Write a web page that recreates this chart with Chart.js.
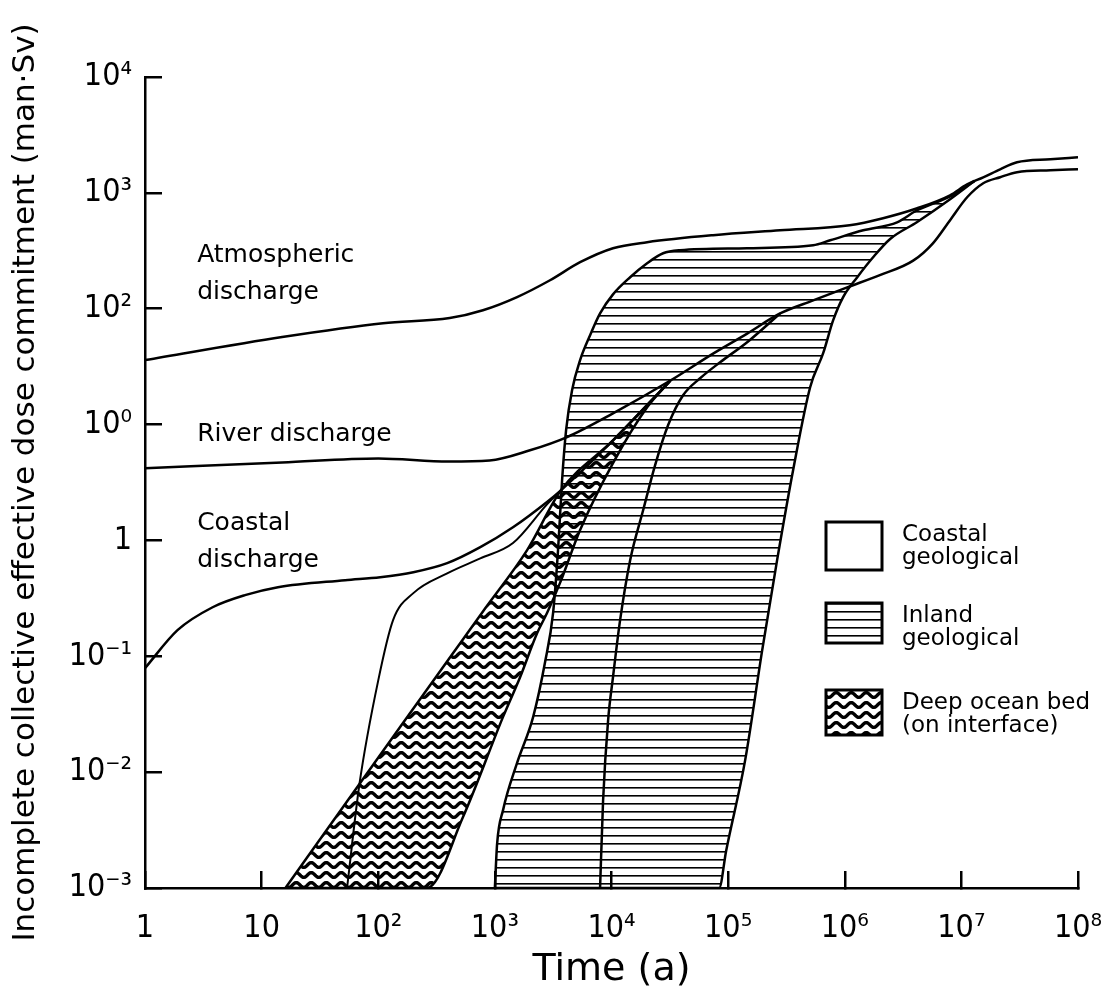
<!DOCTYPE html>
<html>
<head>
<meta charset="utf-8">
<script src="https://cdn.jsdelivr.net/npm/chart.js@4.4.1/dist/chart.umd.min.js"></script>
<style>
  html, body { margin: 0; padding: 0; background: #fff; }
  #chart { display: block; }
</style>
</head>
<body>
<canvas id="chart" width="1113" height="995"></canvas>
<script>
// tick values and their printed labels (the original prints "10⁰" at the 10 mark)
const xTickValues = [1, 10, 1e2, 1e3, 1e4, 1e5, 1e6, 1e7, 1e8];
const xTickLabels = ['1', '10', '10²', '10³', '10⁴', '10⁵', '10⁶', '10⁷', '10⁸'];
const yTickValues = [1e-3, 1e-2, 1e-1, 1, 10, 1e2, 1e3, 1e4];
const yTickLabels = ['10⁻³', '10⁻²', '10⁻¹', '1', '10⁰', '10²', '10³', '10⁴'];

// Atmospheric discharge
const atmosX = [1, 15, 110, 410, 790, 1550, 2970, 5380, 10300, 20200, 74300, 279000, 1.1e6, 2.13e6, 4.18e6, 8.0e6, 1.12e7, 1.54e7, 2.15e7, 3.0e7, 5.8e7, 1e8];
const atmosY = [36, 57, 75, 83, 97, 126, 176, 252, 333, 375, 431, 475, 525, 604, 736, 953, 1185, 1362, 1596, 1836, 1950, 2030];

// River discharge (joins the common curve after ~3e4 a)
const riverX = [1, 15, 100, 400, 900, 2000, 4160, 10300, 32000, 74300, 145600, 279000, 536000, 1.05e6, 2.0e6, 3.86e6, 5.7e6, 8.0e6, 1.12e7, 1.54e7, 2.15e7, 3.0e7, 5.8e7, 1e8];
const riverY = [4.2, 4.7, 5.1, 4.8, 4.9, 6.0, 7.8, 12.5, 24, 41, 61, 91, 118, 153, 195, 260, 367, 581, 916, 1211, 1365, 1507, 1567, 1600];

// Coastal discharge
const coastalX = [1, 1.9, 3.8, 7.2, 13.8, 52, 104, 200, 390, 750, 1430, 2800, 3700, 10300, 32000];
const coastalY = [0.079, 0.168, 0.265, 0.337, 0.395, 0.454, 0.482, 0.532, 0.637, 0.875, 1.30, 2.15, 2.72, 7.3, 24];

// Coastal geological
const coastGeoX = [54, 69, 100, 134, 200, 390, 750, 1430, 2800, 3700];
const coastGeoY = [0.001, 0.0079, 0.062, 0.205, 0.351, 0.52, 0.70, 0.95, 2.05, 2.72];

// Deep ocean bed band: upper and lower edges
const oceanUpperX = [16, 69, 154, 413, 793, 1890, 3700, 10300, 32000];
const oceanUpperY = [0.001, 0.0079, 0.0245, 0.098, 0.245, 0.824, 2.72, 7.3, 24];
const oceanLowerX = [16, 262, 533, 1175, 1645, 2300, 2800, 3620, 5380, 10300, 20200, 32000];
const oceanLowerY = [0.001, 0.001, 0.0041, 0.030, 0.066, 0.158, 0.236, 0.43, 1.23, 4.65, 14.1, 24];

// Inland geological band: upper and lower edges, plus the inner curve
const inlandUpperX = [1000, 1045, 1175, 1550, 2130, 2700, 3155, 3480, 3770, 4080, 4590, 5380, 6550, 7980, 10300, 14450, 20200, 27700, 38700, 145000, 536000, 750000, 1.44e6, 2.81e6, 4.18e6, 8.0e6, 1.3e7];
const inlandUpperY = [0.001, 0.0024, 0.0047, 0.012, 0.030, 0.09, 0.236, 0.824, 3.31, 8.95, 19.8, 36, 59, 91, 133, 187, 247, 301, 320, 333, 353, 390, 475, 557, 708, 933, 1270];
const inlandLowerX = [1000, 83800, 96200, 140000, 196000, 263000, 361000, 505000, 653000, 796000, 969000, 1.28e6, 1.75e6, 2.45e6, 4.18e6, 8.0e6, 1.3e7];
const inlandLowerY = [0.001, 0.001, 0.0021, 0.0127, 0.113, 0.676, 4.05, 21.0, 41.3, 79.6, 126, 187, 278, 400, 560, 880, 1270];
const inlandInnerX = [7980, 8470, 9350, 10300, 11850, 14450, 18670, 23660, 30600, 41100, 57500, 85400, 145600, 279000];
const inlandInnerY = [0.001, 0.0057, 0.028, 0.066, 0.205, 0.676, 1.82, 4.47, 9.9, 17.9, 25.1, 34.5, 51.4, 91];

const curveLabels = [
    { lines: ['Atmospheric', 'discharge'], x: 2.8, y: 252 },
    { lines: ['River discharge'], x: 2.8, y: 7.2 },
    { lines: ['Coastal', 'discharge'], x: 2.8, y: 1.23 }
];

const legendItems = [
    { lines: ['Coastal', 'geological'], fill: 'none' },
    { lines: ['Inland', 'geological'], fill: 'lines' },
    { lines: ['Deep ocean bed', '(on interface)'], fill: 'waves' }
];

const canvas = document.getElementById('chart');
const ctx = canvas.getContext('2d');

function linePattern() {
    const c = document.createElement('canvas');
    c.width = 16; c.height = 8;
    const g = c.getContext('2d');
    g.fillStyle = '#000';
    g.fillRect(0, 3, 16, 1.6);
    return ctx.createPattern(c, 'repeat');
}

function wavePattern() {
    const c = document.createElement('canvas');
    c.width = 15; c.height = 10;
    const g = c.getContext('2d');
    g.strokeStyle = '#000';
    g.lineWidth = 3.4;
    g.beginPath();
    for (let i = -2; i <= 17; i++) {
        const yy = 5 + 2.4 * Math.sin(2 * Math.PI * i / 15);
        if (i === -2) g.moveTo(i, yy); else g.lineTo(i, yy);
    }
    g.stroke();
    return ctx.createPattern(c, 'repeat');
}

const patterns = { lines: linePattern(), waves: wavePattern() };

const toPoints = (xs, ys) => xs.map((x, i) => ({ x: x, y: ys[i] }));

function curve(xs, ys, extra) {
    return Object.assign({
        data: toPoints(xs, ys),
        borderColor: '#000',
        borderWidth: 2.5,
        pointRadius: 0,
        fill: false,
        cubicInterpolationMode: 'monotone'
    }, extra || {});
}

const textFont = '"DejaVu Sans", sans-serif';
const tickFont = { family: '"Liberation Sans Narrow", "DejaVu Sans Condensed", sans-serif', size: 32 };

const labelPlugin = {
    id: 'curveLabels',
    afterDraw(chart) {
        const c = chart.ctx;
        const xs = chart.scales.x, ys = chart.scales.y;
        c.save();
        c.fillStyle = '#000';
        c.font = '25px ' + textFont;
        c.textBaseline = 'alphabetic';
        curveLabels.forEach(lab => {
            const px = xs.getPixelForValue(lab.x);
            const py = ys.getPixelForValue(lab.y);
            lab.lines.forEach((t, i) => c.fillText(t, px, py + i * 37));
        });

        // legend
        const boxL = 826, boxW = 56, textL = 902;
        const tops = [522, 603, 690], heights = [48, 40, 45];
        c.font = '23px ' + textFont;
        legendItems.forEach((item, i) => {
            if (item.fill !== 'none') {
                c.fillStyle = patterns[item.fill];
                c.fillRect(boxL, tops[i], boxW, heights[i]);
            }
            c.strokeStyle = '#000';
            c.lineWidth = 3;
            c.strokeRect(boxL, tops[i], boxW, heights[i]);
            c.fillStyle = '#000';
            c.fillText(item.lines[0], textL, tops[i] + 19);
            c.fillText(item.lines[1], textL, tops[i] + 42);
        });
        c.restore();
    }
};

new Chart(ctx, {
    type: 'line',
    data: {
        datasets: [
            curve(atmosX, atmosY),
            curve(riverX, riverY),
            curve(coastalX, coastalY),
            curve(coastGeoX, coastGeoY, { borderWidth: 2 }),
            curve(oceanUpperX, oceanUpperY),
            curve(oceanLowerX, oceanLowerY, { fill: '-1', backgroundColor: patterns.waves }),
            curve(inlandUpperX, inlandUpperY),
            curve(inlandLowerX, inlandLowerY, { fill: '-1', backgroundColor: patterns.lines }),
            curve(inlandInnerX, inlandInnerY)
        ]
    },
    options: {
        responsive: false,
        animation: false,
        devicePixelRatio: 1,
        layout: { padding: { top: 77, right: 35, bottom: 0, left: 0 } },
        plugins: {
            legend: { display: false },
            tooltip: { enabled: false },
            filler: { drawTime: 'beforeDatasetsDraw' }
        },
        scales: {
            x: {
                type: 'logarithmic',
                min: 1,
                max: 1e8,
                afterBuildTicks: axis => { axis.ticks = xTickValues.map(v => ({ value: v })); },
                afterFit: axis => {
                    axis.height = 107;
                    axis.paddingLeft = 0;
                    axis.paddingRight = 0;
                },
                grid: { drawOnChartArea: false, drawTicks: true, tickLength: -17, color: '#000', lineWidth: 2.5 },
                border: { display: true, color: '#000', width: 2.5 },
                ticks: {
                    color: '#000',
                    font: tickFont,
                    padding: 38,
                    maxRotation: 0,
                    autoSkip: false,
                    callback: (v, i) => xTickLabels[i]
                },
                title: {
                    display: true,
                    text: 'Time (a)',
                    color: '#000',
                    font: { family: textFont, size: 38 },
                    padding: { top: 0, bottom: 2 }
                }
            },
            y: {
                type: 'logarithmic',
                min: 1e-3,
                max: 1e4,
                afterBuildTicks: axis => { axis.ticks = yTickValues.map(v => ({ value: v })); },
                afterFit: axis => {
                    axis.width = 145;
                    axis.paddingTop = 0;
                    axis.paddingBottom = 0;
                },
                grid: { drawOnChartArea: false, drawTicks: true, tickLength: -17, color: '#000', lineWidth: 2.5 },
                border: { display: true, color: '#000', width: 2.5 },
                ticks: {
                    color: '#000',
                    font: tickFont,
                    padding: 30,
                    autoSkip: false,
                    callback: (v, i) => yTickLabels[i]
                },
                title: {
                    display: true,
                    text: 'Incomplete collective effective dose commitment (man·Sv)',
                    color: '#000',
                    font: { family: textFont, size: 31 },
                    padding: { top: 7, bottom: 0 }
                }
            }
        }
    },
    plugins: [labelPlugin]
});
</script>
</body>
</html>
